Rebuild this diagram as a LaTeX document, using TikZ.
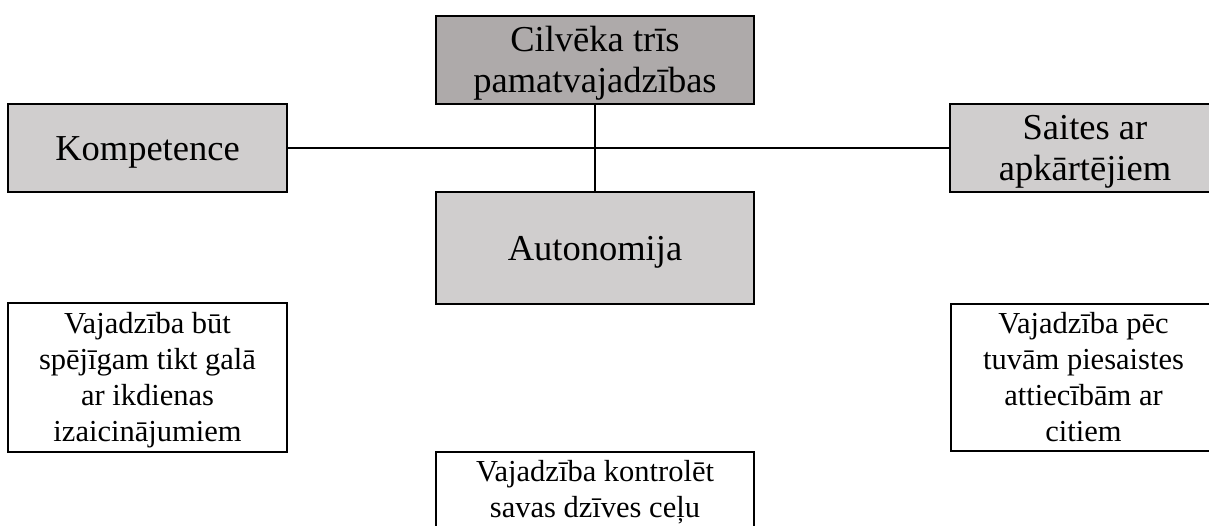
\documentclass[tikz,border=0pt]{standalone}
\usepackage{fontspec}
\setmainfont{Liberation Serif}
\definecolor{topgray}{HTML}{AEAAAA}
\definecolor{boxgray}{HTML}{D0CECE}
\newcommand\Sm[1]{\smash{#1}}
\newcommand\BigStrut{\rule{0pt}{24pt}}
\newcommand\SmallStrut{\rule{0pt}{20pt}}
\begin{document}
\begin{tikzpicture}[x=1pt,y=-1pt,
  boxbase/.style={draw=black, line width=2.4pt, inner sep=0pt, outer sep=0pt, align=center, anchor=center},
  bigbox/.style={boxbase, font=\fontsize{36.5}{41}\selectfont},
  smallbox/.style={boxbase, fill=white, font=\fontsize{30.5}{36}\selectfont},
  link/.style={line width=2pt}]
\useasboundingbox (0,0) rectangle (1209,525);
\clip (0,0) rectangle (1209,525);
\node[bigbox, fill=topgray, minimum width=318pt, minimum height=88pt] (top) at (595,60)
  {\BigStrut\Sm{Cilvēka trīs}\\\Sm{pamatvajadzības}};
\node[bigbox, fill=boxgray, minimum width=279pt, minimum height=88pt] (komp) at (147.5,148)
  {\BigStrut\Sm{Kompetence}};
\node[bigbox, fill=boxgray, minimum width=270pt, minimum height=88pt] (saites) at (1085,148)
  {\BigStrut\Sm{Saites ar}\\\Sm{apkārtējiem}};
\node[bigbox, fill=boxgray, minimum width=318pt, minimum height=112pt] (auton) at (595,248)
  {\BigStrut\Sm{Autonomija}};
\node[smallbox, minimum width=279pt, minimum height=149pt] (kompd) at (147.5,377.5)
  {\SmallStrut\Sm{Vajadzība būt}\\\Sm{spējīgam tikt galā}\\\Sm{ar ikdienas}\\\Sm{izaicinājumiem}};
\node[smallbox, minimum width=265pt, minimum height=147pt] (saitesd) at (1083.5,377.5)
  {\SmallStrut\Sm{Vajadzība pēc}\\\Sm{tuvām piesaistes}\\\Sm{attiecībām ar}\\\Sm{citiem}};
\node[smallbox, minimum width=318pt, minimum height=75pt] (autond) at (595,489.5)
  {\SmallStrut\Sm{Vajadzība kontrolēt}\\\Sm{savas dzīves ceļu}};
\draw[link] (komp.east) -- (saites.west);
\draw[link] (top.south) -- (auton.north);
\end{tikzpicture}
\end{document}
